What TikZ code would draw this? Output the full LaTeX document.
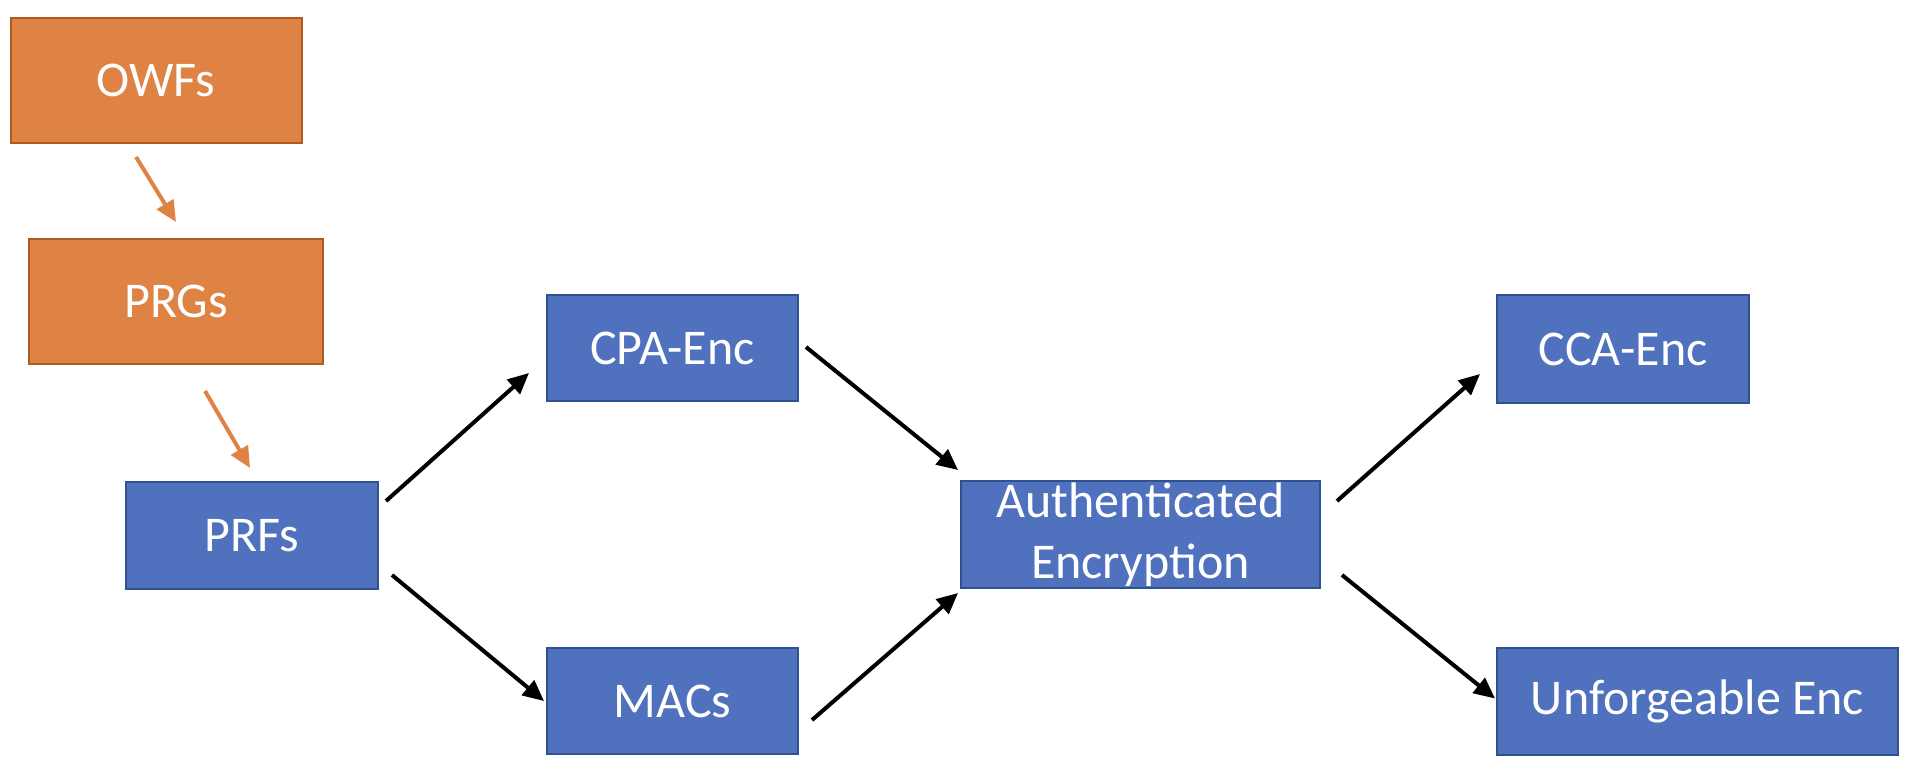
\documentclass[tikz,border=0pt]{standalone}
\usepackage{fontspec}
\setmainfont{Carlito}
\usepackage{tikz}
\usetikzlibrary{arrows.meta}
\definecolor{orfill}{HTML}{DF8344}
\definecolor{ordraw}{HTML}{AE5A21}
\definecolor{blfill}{HTML}{4F71BE}
\definecolor{bldraw}{HTML}{2F528F}
\tikzset{
box/.style={rectangle, line width=2pt, inner sep=0pt, text=white,
  font=\fontsize{50}{61}\selectfont, align=center},
orbox/.style={box, fill=orfill, draw=ordraw},
blbox/.style={box, fill=blfill, draw=bldraw},
arr/.style={line width=4pt, -{Triangle[length=21pt,width=19pt]}},
}

\begin{document}
\begin{tikzpicture}[x=1pt,y=-1pt]
\useasboundingbox (0,0) rectangle (1910,768);
% draws boxes
\node[orbox, minimum width=291pt, minimum height=125pt] (owf) at (156,80.5) {OWFs};
\node[orbox, minimum width=294pt, minimum height=125pt] (prg) at (176,301.5) {PRGs};
\node[blbox, minimum width=252pt, minimum height=107pt] (prf) at (252,535.5) {PRFs};
\node[blbox, minimum width=251pt, minimum height=106pt] (cpa) at (672.5,348) {CPA-Enc};
\node[blbox, minimum width=251pt, minimum height=106pt] (mac) at (672.5,701) {MACs};
\node[blbox, minimum width=359pt, minimum height=107pt] (ae) at (1140.5,534.5) {Authenticated\\Encryption};
\node[blbox, minimum width=252pt, minimum height=108pt] (cca) at (1623,349) {CCA-Enc};
\node[blbox, minimum width=401pt, minimum height=107pt] (unf) at (1697.5,701.5) {Unforgeable Enc};
% draws edges
\draw[arr, orfill] ([shift={(-20,13)}]owf.south) -- ([shift={(0,-16)}]prg.north);
\draw[arr, orfill] ([shift={(29,26)}]prg.south) -- ([shift={(-2,-13)}]prf.north);
\draw[arr] ([shift={(7,20)}]prf.north east) -- ([shift={(-17,-29)}]cpa.south west);
\draw[arr] ([shift={(13,-15)}]prf.south east) -- ([shift={(-2,0)}]mac.west);
\draw[arr] ([shift={(7,-1)}]cpa.east) -- ([shift={(-2,-10)}]ae.north west);
\draw[arr] ([shift={(13,19)}]mac.east) -- ([shift={(-2,4)}]ae.south west);
\draw[arr] ([shift={(16,21)}]ae.north east) -- ([shift={(-16,-30)}]cca.south west);
\draw[arr] ([shift={(21,-14)}]ae.south east) -- ([shift={(-1,-3)}]unf.west);
\end{tikzpicture}
\end{document}
